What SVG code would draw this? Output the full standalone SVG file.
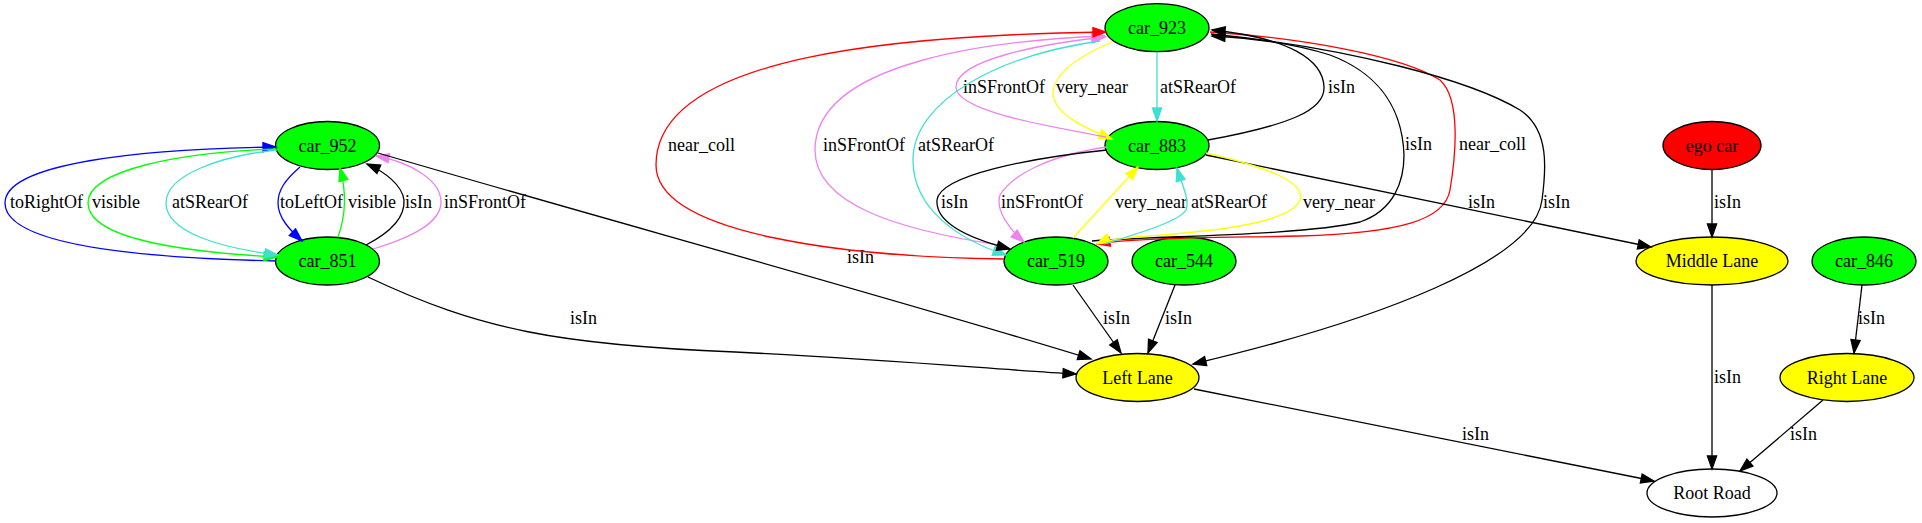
<svg xmlns="http://www.w3.org/2000/svg" width="1922" height="523" viewBox="0 0 1922 523">
<style>
.n{stroke:#000;stroke-width:1.3}
.g{fill:#00ff00}.y{fill:#ffff00}.r{fill:#ff0000}.w{fill:#ffffff}
.t{font-family:"Liberation Serif","Times New Roman",serif;font-size:18px;fill:#000}
.c{text-anchor:middle}
.e{fill:none;stroke-width:1.3}
.k{stroke:#000;marker-end:url(#ak)}
.b{stroke:#0000ff;marker-end:url(#ab)}
.gr{stroke:#00ff00;marker-end:url(#ag)}
.tq{stroke:#40e0d0;marker-end:url(#at)}
.v{stroke:#ee82ee;marker-end:url(#av)}
.ye{stroke:#ffff00;marker-end:url(#ay)}
.rd{stroke:#ff0000;marker-end:url(#ar)}
</style>
<defs>
<marker id="ak" markerUnits="userSpaceOnUse" markerWidth="15" markerHeight="11" refX="13" refY="5" orient="auto" overflow="visible"><path d="M0,0.4 L13,5 L0,9.6 z" fill="#000" stroke="#000" stroke-width="1.3"/></marker>
<marker id="ab" markerUnits="userSpaceOnUse" markerWidth="15" markerHeight="11" refX="13" refY="5" orient="auto" overflow="visible"><path d="M0,0.4 L13,5 L0,9.6 z" fill="#0000ff" stroke="#0000ff" stroke-width="1.3"/></marker>
<marker id="ag" markerUnits="userSpaceOnUse" markerWidth="15" markerHeight="11" refX="13" refY="5" orient="auto" overflow="visible"><path d="M0,0.4 L13,5 L0,9.6 z" fill="#00ff00" stroke="#00ff00" stroke-width="1.3"/></marker>
<marker id="at" markerUnits="userSpaceOnUse" markerWidth="15" markerHeight="11" refX="13" refY="5" orient="auto" overflow="visible"><path d="M0,0.4 L13,5 L0,9.6 z" fill="#40e0d0" stroke="#40e0d0" stroke-width="1.3"/></marker>
<marker id="av" markerUnits="userSpaceOnUse" markerWidth="15" markerHeight="11" refX="13" refY="5" orient="auto" overflow="visible"><path d="M0,0.4 L13,5 L0,9.6 z" fill="#ee82ee" stroke="#ee82ee" stroke-width="1.3"/></marker>
<marker id="ay" markerUnits="userSpaceOnUse" markerWidth="15" markerHeight="11" refX="13" refY="5" orient="auto" overflow="visible"><path d="M0,0.4 L13,5 L0,9.6 z" fill="#ffff00" stroke="#ffff00" stroke-width="1.3"/></marker>
<marker id="ar" markerUnits="userSpaceOnUse" markerWidth="15" markerHeight="11" refX="13" refY="5" orient="auto" overflow="visible"><path d="M0,0.4 L13,5 L0,9.6 z" fill="#ff0000" stroke="#ff0000" stroke-width="1.3"/></marker>
</defs>
<rect width="1922" height="523" fill="#ffffff"/>

<g id="nodes">
<g id="car_952"><ellipse class="n g" cx="327.5" cy="145.5" rx="52" ry="24"/><text class="t c" x="327.5" y="151.5">car_952</text></g>
<g id="car_851"><ellipse class="n g" cx="327.5" cy="261" rx="52" ry="24"/><text class="t c" x="327.5" y="267">car_851</text></g>
<g id="car_923"><ellipse class="n g" cx="1157" cy="27.7" rx="52" ry="24"/><text class="t c" x="1157" y="33.7">car_923</text></g>
<g id="car_883"><ellipse class="n g" cx="1157" cy="145.5" rx="52" ry="24"/><text class="t c" x="1157" y="151.5">car_883</text></g>
<g id="car_519"><ellipse class="n g" cx="1056" cy="261" rx="52" ry="24"/><text class="t c" x="1056" y="267">car_519</text></g>
<g id="car_544"><ellipse class="n g" cx="1184" cy="261" rx="52" ry="24"/><text class="t c" x="1184" y="267">car_544</text></g>
<g id="ego_car"><ellipse class="n r" cx="1712" cy="145.5" rx="49" ry="24"/><text class="t c" x="1712" y="151.5">ego car</text></g>
<g id="middle_lane"><ellipse class="n y" cx="1712" cy="261" rx="76" ry="24"/><text class="t c" x="1712" y="267">Middle Lane</text></g>
<g id="car_846"><ellipse class="n g" cx="1864" cy="261" rx="52" ry="24"/><text class="t c" x="1864" y="267">car_846</text></g>
<g id="left_lane"><ellipse class="n y" cx="1137.5" cy="377.5" rx="61.5" ry="24"/><text class="t c" x="1137.5" y="383.5">Left Lane</text></g>
<g id="right_lane"><ellipse class="n y" cx="1847" cy="377.5" rx="67" ry="24"/><text class="t c" x="1847" y="383.5">Right Lane</text></g>
<g id="root_road"><ellipse class="n w" cx="1712" cy="493" rx="65" ry="24"/><text class="t c" x="1712" y="499">Root Road</text></g>
</g>

<g id="connectors">
<!-- car_851 / car_952 -->
<path class="e b" d="M276,261 C140,258 5,245 5,203 C5,163 140,149 276,147"/>
<text class="t" x="10" y="208">toRightOf</text>
<path class="e gr" d="M276,149 C180,152 88,170 88,203 C88,238 180,252 277,257"/>
<text class="t" x="92" y="208">visible</text>
<path class="e tq" d="M277,150 C220,156 166,175 166,203 C166,232 220,248 278,255"/>
<text class="t" x="172" y="208">atSRearOf</text>
<path class="e b" d="M300,167 C285,180 278,190 278,203 C278,218 290,230 302,241"/>
<text class="t" x="280" y="208">toLeftOf</text>
<path class="e gr" d="M338,237 C346,215 346,190 340,168"/>
<text class="t" x="348" y="208">visible</text>
<path class="e k" d="M366,245 C395,230 405,215 404,200 C402,185 385,172 367,164"/>
<text class="t" x="405" y="208">isIn</text>
<path class="e v" d="M373,249 C420,235 441,220 441,202 C441,180 410,162 376,156"/>
<text class="t" x="444" y="208">inSFrontOf</text>
<path class="e k" d="M378,153 C600,218 900,300 1091,359"/>
<text class="t" x="847" y="263">isIn</text>
<path class="e k" d="M368,277 C480,330 560,345 735,352 C900,360 1000,370 1076,374"/>
<text class="t" x="570" y="324">isIn</text>

<!-- car_923 / car_883 / car_519 cluster -->
<path class="e tq" d="M1157,52 L1157,121"/>
<text class="t" x="1160" y="93">atSRearOf</text>
<path class="e ye" d="M1112,42 C1070,60 1052,78 1053,95 C1056,115 1085,128 1112,139"/>
<text class="t" x="1056" y="93">very_near</text>
<path class="e v" d="M1106,137 C1040,125 956,110 956,87 C956,60 1040,44 1105,37"/>
<text class="t" x="963" y="93">inSFrontOf</text>
<path class="e v" d="M999,245 C900,230 815,205 815,150 C815,60 1000,40 1105,36"/>
<text class="t" x="823" y="151">inSFrontOf</text>
<path class="e tq" d="M1100,41 C1000,55 913,100 913,160 C913,210 960,240 1006,255"/>
<text class="t" x="918" y="151">atSRearOf</text>
<path class="e rd" d="M1004,259 C850,257 656,235 656,165 C656,55 900,35 1106,32"/>
<text class="t" x="668" y="151">near_coll</text>
<path class="e rd" d="M1210,32 C1300,38 1400,55 1440,80 C1462,100 1455,160 1450,190 C1445,220 1400,233 1300,236 C1200,238 1130,238 1097,244"/>
<text class="t" x="1459" y="150">near_coll</text>
<path class="e k" d="M1092,241 C1150,236 1300,236 1360,222 C1395,210 1404,180 1404,155 C1402,100 1370,70 1330,55 C1290,42 1250,38 1212,36"/>
<text class="t" x="1405" y="150">isIn</text>
<path class="e k" d="M1208,140 C1290,125 1325,110 1324,87 C1323,60 1290,38 1212,30"/>
<text class="t" x="1328" y="93">isIn</text>
<path class="e k" d="M1211,34 C1350,48 1470,80 1520,110 C1550,130 1546,170 1542,200 C1535,260 1380,320 1193,364"/>
<text class="t" x="1543" y="208">isIn</text>
<path class="e k" d="M1206,155 L1651,247"/>
<text class="t" x="1468" y="208">isIn</text>
<path class="e ye" d="M1206,153 C1280,170 1305,185 1300,200 C1290,225 1200,232 1150,236 C1120,238 1105,240 1097,244"/>
<text class="t" x="1303" y="208">very_near</text>
<path class="e ye" d="M1073,238 L1138,167"/>
<text class="t" x="1115" y="208">very_near</text>
<path class="e tq" d="M1104,244 C1150,230 1180,220 1186,210 C1190,200 1182,185 1177,168"/>
<text class="t" x="1191" y="208">atSRearOf</text>
<path class="e v" d="M1107,147 C1050,155 1012,175 1000,195 C995,210 1010,230 1024,242"/>
<text class="t" x="1001" y="208">inSFrontOf</text>
<path class="e k" d="M1107,150 C1030,158 940,175 937,200 C935,225 975,240 1010,249"/>
<text class="t" x="941" y="208">isIn</text>

<!-- lanes -->
<path class="e k" d="M1073,285 L1121,353"/>
<text class="t" x="1103" y="324">isIn</text>
<path class="e k" d="M1175,285 L1148,353"/>
<text class="t" x="1165" y="324">isIn</text>
<path class="e k" d="M1712,169.5 L1712,237"/>
<text class="t" x="1714" y="208">isIn</text>
<path class="e k" d="M1712,285 L1712,469"/>
<text class="t" x="1714" y="383">isIn</text>
<path class="e k" d="M1862,285 L1854,353"/>
<text class="t" x="1858" y="324">isIn</text>
<path class="e k" d="M1823,400 L1740,471"/>
<text class="t" x="1790" y="440">isIn</text>
<path class="e k" d="M1194,389 L1654,481"/>
<text class="t" x="1462" y="440">isIn</text>
</g>
</svg>
